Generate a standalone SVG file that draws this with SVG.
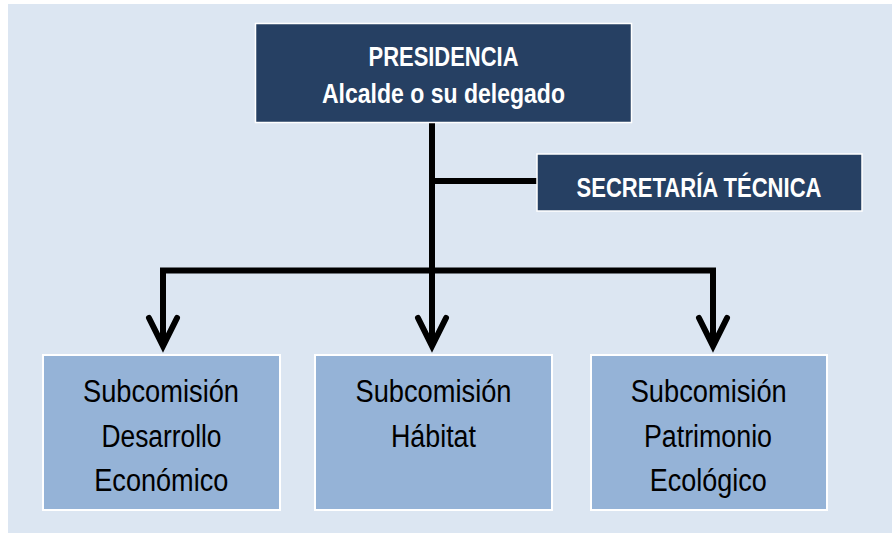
<svg xmlns="http://www.w3.org/2000/svg" width="892" height="533" viewBox="0 0 892 533">
<style>
.dark{fill:#264063;stroke:#ffffff;stroke-width:1.5}
.light{fill:#95b3d7;stroke:#ffffff;stroke-width:2}
.t{font-family:"Liberation Sans",Arial,sans-serif;text-anchor:middle}
.w{fill:#ffffff;font-weight:bold;font-size:27.5px}
.k{fill:#000000;font-size:31px}
.ln{fill:none;stroke:#000000;stroke-width:6}
.ah{fill:none;stroke:#000000;stroke-width:6;stroke-linecap:round;stroke-linejoin:miter}
</style>
<rect x="8" y="4" width="884" height="529" fill="#dce6f2"/>
<g id="connectors">
<line class="ln" x1="432" y1="123" x2="432" y2="346"/>
<line class="ln" x1="432" y1="181" x2="537" y2="181"/>
<polyline class="ln" points="163,346 163,270.5 713,270.5 713,346"/>
<polyline class="ah" points="149,318 163,346 177,318"/>
<polyline class="ah" points="418,318 432,346 446,318"/>
<polyline class="ah" points="699,318 713,346 727,318"/>
</g>
<g id="presidencia">
<rect class="dark" x="255.5" y="23.5" width="376" height="99"/>
<text class="t w" x="443.5" y="65.5" textLength="150" lengthAdjust="spacingAndGlyphs">PRESIDENCIA</text>
<text class="t w" x="443.5" y="103" textLength="243" lengthAdjust="spacingAndGlyphs">Alcalde o su delegado</text>
</g>
<g id="secretaria">
<rect class="dark" x="537" y="154" width="325" height="57"/>
<text class="t w" x="699" y="197" textLength="245" lengthAdjust="spacingAndGlyphs">SECRETARÍA TÉCNICA</text>
</g>
<g id="desarrollo">
<rect class="light" x="43" y="355" width="237" height="155"/>
<text class="t k" x="161" y="401.5" textLength="156" lengthAdjust="spacingAndGlyphs">Subcomisión</text>
<text class="t k" x="161.5" y="446.5" textLength="120" lengthAdjust="spacingAndGlyphs">Desarrollo</text>
<text class="t k" x="161.3" y="490.5" textLength="134" lengthAdjust="spacingAndGlyphs">Económico</text>
</g>
<g id="habitat">
<rect class="light" x="315" y="355" width="237" height="155"/>
<text class="t k" x="433.5" y="401.5" textLength="156" lengthAdjust="spacingAndGlyphs">Subcomisión</text>
<text class="t k" x="433.5" y="446.5" textLength="85" lengthAdjust="spacingAndGlyphs">Hábitat</text>
</g>
<g id="patrimonio">
<rect class="light" x="591" y="355" width="236" height="155"/>
<text class="t k" x="708.7" y="401.5" textLength="156" lengthAdjust="spacingAndGlyphs">Subcomisión</text>
<text class="t k" x="708" y="446.5" textLength="128" lengthAdjust="spacingAndGlyphs">Patrimonio</text>
<text class="t k" x="708.3" y="490.5" textLength="117" lengthAdjust="spacingAndGlyphs">Ecológico</text>
</g>
</svg>
